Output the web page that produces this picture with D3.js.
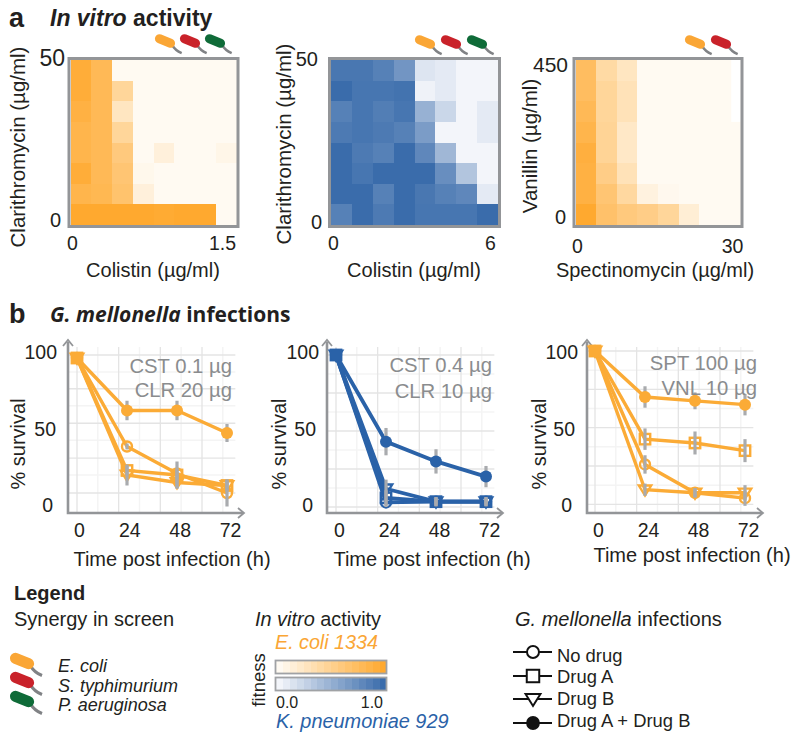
<!DOCTYPE html>
<html><head><meta charset="utf-8">
<script src="https://cdn.jsdelivr.net/npm/d3@7"></script>
<style>
html,body{margin:0;padding:0;background:#fff}
svg{display:block}
text{font-family:"Liberation Sans",Arial,sans-serif;fill:#231f20}
</style></head><body>
<svg id="c" width="800" height="743"></svg>
<script>
// ---------- data ----------
const heatARows = [
 [.95,.8,0,0,0,0,0,0],
 [.95,.8,.45,0,0,0,0,0],
 [.9,.8,.25,0,0,0,0,0],
 [.85,.8,.45,0,0,0,0,0],
 [.85,.8,.6,0,.12,0,0,.05],
 [.95,.8,.65,.03,0,0,0,0],
 [.85,.82,.68,.12,0,0,0,0],
 [1,1,1,1,.98,1,1,0]];
const heatBRows = [
 [.92,.92,.85,.7,.12,.08,0,0],
 [1,.93,.93,.95,.02,.08,0,0],
 [.85,.93,.87,.93,.5,.22,0,.08],
 [.9,.93,.9,.85,.65,0,0,.08],
 [1,.9,.85,1,.8,.45,0,0],
 [1,.93,1,1,1,.75,.35,0],
 [1,1,.85,1,.92,.85,.8,.08],
 [.85,1,.9,1,.93,.93,.93,1]];
const heatCRows = [
 [.75,.4,.25,0,0,0,0,0],
 [.75,.45,.3,0,0,0,0,0],
 [.8,.45,.3,0,0,0,0,0],
 [.85,.47,.22,0,0,0,0,0],
 [.92,.47,.22,0,0,0,0,0],
 [.9,.55,.3,0,0,0,0,0],
 [.9,.65,.42,.1,.02,0,0,0],
 [1,.7,.6,.55,.45,.15,0,0]];
const hours = [0,24,48,72];
const seriesKeys = ["No drug","Drug A","Drug B","Drug A + Drug B"];
const survA = [[98,39,21,8],[98,23,20,13],[98,20,15,13],[98,63,63,48]];
const errA  = [[0,2,3,9],[0,3,9,3],[0,7,4,4],[0,6.5,6.5,6]];
const survB = [[100,3,3.5,3.5],[100,6,3.5,3.5],[100,12,3.5,3.5],[100,43,30,20]];
const errB  = [[0,3,2,2],[0,5,3,3],[0,6,3,3],[0,9,8,7]];
const survC = [[100,26,7.5,4],[100,42.5,40,35],[100,9.5,7.5,7.5],[100,70,67.5,65]];
const errC  = [[0,6,3,5],[0,7,7.5,7.5],[0,4,3,5],[0,7,5.5,7]];
const survivalTicks = [100,50,0];
const hourTicks = ["0","24","48","72"];
const legendBugs = ["E. coli","S. typhimurium","P. aeruginosa"];
const bugColors = ["#faa635","#c9222a","#0f6b38"];
const legendStops = d3.range(0,16);

// ---------- colours ----------
const ORANGE="#fbab36", BLUE="#2a62a8", GREY="#939598", ERR="#a9abae", INK="#231f20";
const orangeScale = d3.scaleLinear().domain([0,1]).range(["#fffaf2","#ffa92f"]);
const blueScale = d3.scaleLinear().domain([0,1]).range(["#f3f5fa","#3a6cab"]);

const svg = d3.select("#c");
function txt(g,x,y,s,o={}){
  const t=g.append("text").attr("x",x).attr("y",y).text(s)
    .attr("font-size",o.size||20).attr("text-anchor",o.anchor||"start");
  if(o.style)t.attr("font-style",o.style);
  if(o.weight)t.attr("font-weight",o.weight);
  if(o.fill)t.style("fill",o.fill);
  if(o.family)t.style("font-family",o.family);
  if(o.rot)t.attr("transform",`rotate(-90 ${x} ${y})`);
  return t;
}
function bug(g,cx,cy,color,scale=1){
  const n=g.append("g").attr("transform",`translate(${cx},${cy}) rotate(22) scale(${scale})`);
  n.append("path").attr("d","M8,1 Q13,5 20,5").attr("fill","none").attr("stroke","#808285").attr("stroke-width",2.6);
  n.append("rect").attr("x",-10.5).attr("y",-4.6).attr("width",21).attr("height",9.2).attr("rx",4.6).attr("fill",color);
}

// ---------- headings ----------
txt(svg,9,27,"a",{size:27,weight:"bold"});
const h1=txt(svg,50,26,"",{size:23,weight:"bold"});
h1.append("tspan").attr("font-style","italic").text("In vitro");
h1.append("tspan").text(" activity");
txt(svg,9,323,"b",{size:27,weight:"bold"});
const h2=svg.append("text").attr("x",50).attr("y",322).attr("font-size",21).attr("font-weight","bold").style("font-family","'Open Sans'");
h2.append("tspan").attr("font-style","italic").text("G. mellonella");
h2.append("tspan").text(" infections");

// ---------- heat maps ----------
const heatPanels=[
 {rows:heatARows,color:orangeScale,x:70.5,y:60,w:166,h:165,ticksX:["0","1.5"],xt:[72,222],xb:250,ticksY:["50","0"],yt:[59,220],yr:[65,61],ysize:23,xl:"Colistin (µg/ml)",xlx:153,yl:"Clarithromycin (µg/ml)",ylx:25,yly:147,bugs:[165,190,215],by:41},
 {rows:heatBRows,color:blueScale,x:331,y:60,w:167,h:165,ticksX:["0","6"],xt:[333,490],xb:250,ticksY:["50","0"],yt:[59,222],yr:[318,322],ysize:20,xl:"Colistin (µg/ml)",xlx:414,yl:"Clarithromycin (µg/ml)",ylx:291,yly:144,bugs:[425,451,477],by:42},
 {rows:heatCRows,color:orangeScale,x:575.5,y:60,w:165,h:165,ticksX:["0","30"],xt:[577,732],xb:253,ticksY:["450","0"],yt:[65,217],yr:[568,566],ysize:21,xl:"Spectinomycin (µg/ml)",xlx:655,yl:"Vanillin (µg/ml)",ylx:537,yly:146,bugs:[695,721],by:42}
];
heatPanels.forEach(p=>{
  const g=svg.append("g");
  const xb=d3.scaleBand().domain(d3.range(8)).range([p.x,p.x+p.w]);
  const yb=d3.scaleBand().domain(d3.range(8)).range([p.y,p.y+p.h]);
  p.rows.forEach((r,ri)=>g.selectAll(null).data(r).enter().append("rect")
     .attr("x",(d,i)=>xb(i)).attr("y",yb(ri)).attr("width",xb.bandwidth()+.3).attr("height",yb.bandwidth()+.3)
     .attr("shape-rendering","crispEdges")
     .attr("fill",d=>p.color(d)));
  if(p.rows===heatCRows){
    g.append("rect").attr("x",xb(7)+xb.bandwidth()*.55).attr("y",yb(0)).attr("width",xb.bandwidth()*.45).attr("height",yb.bandwidth()*3).attr("fill","#fff");
  }
  g.append("rect").attr("x",p.x-1.5).attr("y",p.y-1.5).attr("width",p.w+3).attr("height",p.h+3).attr("fill","none").attr("stroke",GREY).attr("stroke-width",3);
  const xa=d3.scalePoint().domain(p.ticksX).range(p.xt);
  g.append("g").attr("transform",`translate(0,${p.xb-14})`).call(d3.axisBottom(xa).tickSize(0).tickPadding(0))
    .call(s=>s.select(".domain").remove()).selectAll("text").attr("font-size",19.5).attr("dy","0.71em").style("font-family","'Liberation Sans'");
  p.ticksY.forEach((t,i)=>txt(g,p.yr[i],p.yt[i]+7,t,{anchor:"end",size:i===0?p.ysize:20}));
  txt(g,p.xlx,277,p.xl,{anchor:"middle",size:20});
  txt(g,p.ylx,p.yly,p.yl,{anchor:"middle",size:20.5,rot:true});
  p.bugs.forEach((bx,i)=>bug(g,bx,p.by,bugColors[i]));
});

// ---------- survival panels ----------
const linePanels=[
 {surv:survA,err:errA,color:ORANGE,lw:3.4,x0:77,ax:68,end:244,y0:505,y100:355,grid:[100,77.5,54.5,31.3,8],yLab:[57,56,53],xLab:[79,129,179,230],xl:172,xlb:566,ylx:25,ann:["CST 0.1 µg","CLR 20 µg"],annR:232,annY:[373,397]},
 {surv:survB,err:errB,color:BLUE,lw:3.8,x0:336,ax:327,end:503,y0:507,y100:355,grid:[100,75,50,25,0],yLab:[319,316,313],xLab:[339,389,439,489],xl:432,xlb:566,ylx:286,ann:["CST 0.4 µg","CLR 10 µg"],annR:492,annY:[372,398]},
 {surv:survC,err:errC,color:ORANGE,lw:3.4,x0:595,ax:587,end:763,y0:504.3,y100:351,grid:[100,75,50,25,0],yLab:[578,575,572],xLab:[598,647,698,748],xl:692,xlb:562,ylx:546,ann:["SPT 100 µg","VNL 10 µg"],annR:757,annY:[370,395]}
];
function marker(g,k,x,y,color,sc=1){
  if(k===0) g.append("circle").attr("cx",x).attr("cy",y).attr("r",5*sc).attr("fill","none").attr("stroke",color).attr("stroke-width",2.4);
  if(k===1) g.append("rect").attr("x",x-5.2*sc).attr("y",y-5.2*sc).attr("width",10.4*sc).attr("height",10.4*sc).attr("fill","none").attr("stroke",color).attr("stroke-width",2.4);
  if(k===2) g.append("path").attr("d",`M${x-6.2*sc},${y-4.2*sc} L${x+6.2*sc},${y-4.2*sc} L${x},${y+5.8*sc} Z`).attr("fill","none").attr("stroke",color).attr("stroke-width",2.4);
  if(k===3) g.append("circle").attr("cx",x).attr("cy",y).attr("r",6*sc).attr("fill",color);
}
linePanels.forEach(p=>{
  const g=svg.append("g");
  const x=d3.scaleLinear().domain([0,72]).range([p.x0,p.x0+150]);
  const y=d3.scaleLinear().domain([0,100]).range([p.y0,p.y100]);
  const right=x(76), top=347, base=513;
  // grid
  const step=p.grid[0]-p.grid[1];
  [...p.grid.slice(0,-1).map(v=>v-step/2)].forEach(v=>g.append("line").attr("x1",p.ax).attr("x2",right).attr("y1",y(v)).attr("y2",y(v)).attr("stroke","#f4f4f4").attr("stroke-width",1.5));
  [10,30,50,70].forEach(h=>g.append("line").attr("x1",x(h)).attr("x2",x(h)).attr("y1",top).attr("y2",base).attr("stroke","#f4f4f4").attr("stroke-width",1.5));
  p.grid.forEach(v=>g.append("line").attr("x1",p.ax).attr("x2",right).attr("y1",y(v)).attr("y2",y(v)).attr("stroke","#e4e4e4").attr("stroke-width",1.3));
  [0,20,40,60].forEach(h=>g.append("line").attr("x1",x(h)).attr("x2",x(h)).attr("y1",top).attr("y2",base).attr("stroke","#e4e4e4").attr("stroke-width",1.3));
  // axes
  g.append("path").attr("d",`M${p.ax},342 V${base} H${p.end-1}`).attr("fill","none").attr("stroke",GREY).attr("stroke-width",2.6);
  g.append("path").attr("d",`M${p.ax-5},346 L${p.ax},340 L${p.ax+5},346`).attr("fill","none").attr("stroke",GREY).attr("stroke-width",1.8);
  g.append("path").attr("d",`M${p.end-6},508 L${p.end},513 L${p.end-6},518`).attr("fill","none").attr("stroke",GREY).attr("stroke-width",1.8);
  // labels
  const xa=d3.scalePoint().domain(hourTicks).range([p.xLab[0],p.xLab[3]]);
  g.append("g").attr("transform","translate(0,523)").call(d3.axisBottom(xa).tickSize(0).tickPadding(0))
    .call(s=>s.select(".domain").remove()).selectAll("text").attr("font-size",19.5).attr("dy","0.71em").style("font-family","'Liberation Sans'");
  const ya=d3.scalePoint().domain(survivalTicks).range([359,512]);
  survivalTicks.forEach((t,i)=>txt(g,p.yLab[i],ya(t),t,{anchor:"end",size:19.5}));
  txt(g,p.xl,p.xlb,"Time post infection (h)",{anchor:"middle",size:20});
  txt(g,p.ylx,444,"% survival",{anchor:"middle",size:20,rot:true});
  // series
  const line=d3.line().x((d,i)=>x(hours[i])).y(d=>y(d));
  const order=[0,1,2,3];
  order.forEach(k=>{
    g.append("path").attr("d",line(p.surv[k])).attr("fill","none").attr("stroke",p.color).attr("stroke-width",p.lw);
  });
  [0,1,2].forEach(k=>p.surv[k].forEach((v,i)=>marker(g,k,x(hours[i]),y(v),p.color)));
  order.forEach(k=>p.surv[k].forEach((v,i)=>{
    if(p.err[k][i]>0) g.append("line").attr("x1",x(hours[i])).attr("x2",x(hours[i])).attr("y1",y(v-p.err[k][i])).attr("y2",y(v+p.err[k][i])).attr("stroke",ERR).attr("stroke-width",3.2);
  }));
  p.surv[3].forEach((v,i)=>marker(g,3,x(hours[i]),y(v),p.color));
  p.ann.forEach((a,i)=>txt(g,p.annR,p.annY[i],a,{anchor:"end",size:20.3,fill:"#8a8c8e"}));
});

// ---------- legend ----------
const L=svg.append("g");
txt(L,14,600,"Legend",{size:20,weight:"bold"});
txt(L,14,626,"Synergy in screen",{size:20});
legendBugs.forEach((b,i)=>{
  bug(L,22,661+19*i,bugColors[i],1.2);
  txt(L,58,672+19.5*i,b,{size:18,style:"italic"});
});
const v=txt(L,255,626,"",{size:19.9});
v.append("tspan").attr("font-style","italic").text("In vitro");
v.append("tspan").text(" activity");
txt(L,275,649,"E. coli 1334",{size:19.7,style:"italic",fill:"#faa635"});
[[orangeScale,661],[blueScale,678]].forEach(([sc,yy])=>{
  const bx=d3.scaleBand().domain(legendStops).range([276,386.5]);
  L.selectAll(null).data(legendStops).enter().append("rect")
    .attr("x",d=>bx(d)).attr("y",yy).attr("width",bx.bandwidth()+.4).attr("height",12.5)
    .attr("shape-rendering","crispEdges")
    .attr("fill",d=>sc(d/15));
  L.append("rect").attr("x",275.5).attr("y",yy-.5).attr("width",111).attr("height",13).attr("fill","none").attr("stroke","#a0a2a5").attr("stroke-width",1.8);
});
txt(L,265,680,"fitness",{anchor:"middle",size:18.5,rot:true});
txt(L,276,708,"0.0",{size:16});
txt(L,383,708,"1.0",{size:16,anchor:"end"});
txt(L,276,728,"K. pneumoniae 929",{size:19.9,style:"italic",fill:BLUE});
const gm=txt(L,515,626,"",{size:20});
gm.append("tspan").attr("font-style","italic").text("G. mellonella");
gm.append("tspan").text(" infections");
const legY=[652,676,699,723], legB=[662,683,705,727];
seriesKeys.forEach((s,i)=>{
  L.append("line").attr("x1",513).attr("x2",552).attr("y1",legY[i]).attr("y2",legY[i]).attr("stroke","#111").attr("stroke-width",2);
  if(i===3){marker(L,3,533,legY[i],"#111",1.15);}
  else{
    const m=L.append("g");
    marker(m,i,533,legY[i],"#111",1.2);
    m.selectAll("circle,rect,path").attr("fill","#fff").attr("stroke-width",2);
  }
  txt(L,557,legB[i],s,{size:18.4});
});
</script>
</body></html>
